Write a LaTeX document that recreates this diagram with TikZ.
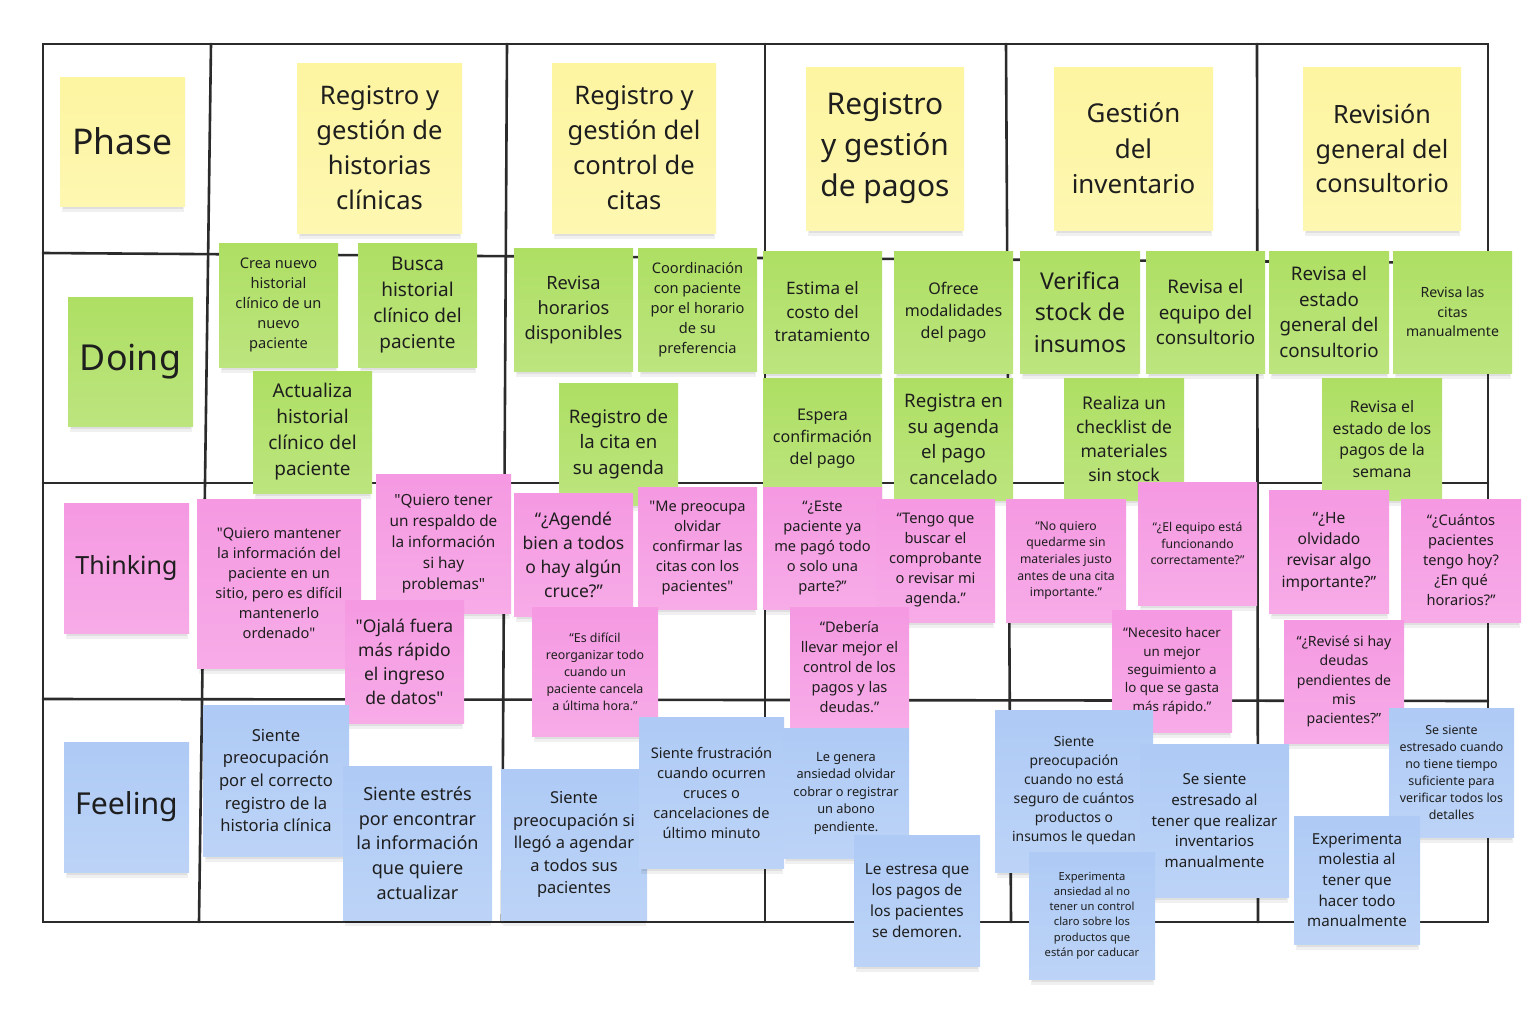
\documentclass[tikz,border=0pt]{standalone}
\usepackage{fontspec}
\setmainfont{Noto Sans}[Ligatures=TeXOff]
\definecolor{yel}{HTML}{FDF5A0}
\definecolor{grn}{HTML}{AEDF63}
\definecolor{pnk}{HTML}{F599E2}
\definecolor{blu}{HTML}{AECAF5}
\definecolor{txt}{HTML}{1E1E1E}
\definecolor{gridc}{HTML}{2B2B2B}
\tikzset{
  sticky/.style={rectangle, inner sep=0pt, align=center, text=txt},
  gridline/.style={draw=gridc, line width=1.3pt, line cap=round},
}
\newcommand\stick[8]{%
  \pgfmathsetmacro\sW{(#5-#3)/2}%
  \pgfmathsetmacro\sH{(#6-#4)/2}%
  \pgfmathsetmacro\sF{#7/2.74}%
  \pgfmathsetmacro\sB{#7/2}%
  \fill[black,opacity=0.06] ({#3+2},{#6-8}) rectangle ({#5-1},{#6+6});
  \fill[black,opacity=0.07] ({#3+3},{#6-3}) rectangle ({#5-2},{#6+3});
  \node[sticky, top color=#2, bottom color=#2!82!white,
        minimum width=\sW pt, minimum height=\sH pt,
        font={\fontsize{\sF pt}{\sB pt}\selectfont}]
        (#1) at ({(#3+#5)/2},{(#4+#6)/2}) {#8};
}
\begin{document}
\begin{tikzpicture}[x=0.5pt,y=-0.5pt]
\useasboundingbox (0,0) rectangle (1527,1023);
\fill[white] (0,0) rectangle (1527,1023);
% grid
\draw[gridline] (43,44) -- (1488,44) -- (1488,922) -- (43,922) -- cycle;
\draw[gridline] (43,253) -- (1488,263);
\draw[gridline] (43,483) -- (1488,483);
\draw[gridline] (43,699) -- (1488,701);
\draw[gridline] (211,44) -- (199,922);
\draw[gridline] (507,44) -- (502,922);
\draw[gridline] (765,44) -- (765,922);
\draw[gridline] (1006,44) -- (1011,922);
\draw[gridline] (1257,44) -- (1258,922);
% phase row
\stick{p0}{yel}{60}{77}{185}{206}{48.6}{Phase}
\stick{p1}{yel}{297}{63}{462}{233}{35}{Registro y\\gestión de\\historias\\clínicas}
\stick{p2}{yel}{552}{63}{716}{233}{35}{Registro y\\gestión del\\control de\\citas}
\stick{p3}{yel}{806}{67}{964}{230}{41}{Registro\\y gestión\\de pagos}
\stick{p4}{yel}{1054}{67}{1213}{230}{35.5}{Gestión\\del\\inventario}
\stick{p5}{yel}{1303}{67}{1461}{230}{34.5}{Revisión\\general del\\consultorio}
% doing row
\stick{d0}{grn}{68}{297}{193}{426}{49}{Doing}
\stick{d1}{grn}{219}{243}{338}{367}{20}{Crea nuevo\\historial\\clínico de un\\nuevo\\paciente}
\stick{d2}{grn}{358}{243}{477}{367}{26}{Busca\\historial\\clínico del\\paciente}
\stick{d3}{grn}{253}{371}{372}{493}{26}{Actualiza\\historial\\clínico del\\paciente}
\stick{d4}{grn}{514}{248}{633}{371}{25}{Revisa\\horarios\\disponibles}
\stick{d5}{grn}{638}{248}{757}{371}{20}{Coordinación\\con paciente\\por el horario\\de su\\preferencia}
\stick{d6}{grn}{763}{251}{882}{373}{23.5}{Estima el\\costo del\\tratamiento}
\stick{d7}{grn}{894}{251}{1013}{373}{22}{Ofrece\\modalidades\\del pago}
\stick{d8}{grn}{559}{383}{678}{505}{25.5}{Registro de\\la cita en\\su agenda}
\stick{d9}{grn}{763}{378}{882}{500}{22}{Espera\\confirmación\\del pago}
\stick{d10}{grn}{894}{378}{1013}{500}{25.5}{Registra en\\su agenda\\el pago\\cancelado}
\stick{d11}{grn}{1020}{251}{1140}{373}{31.7}{Verifica\\stock de\\insumos}
\stick{d12}{grn}{1146}{251}{1265}{373}{25.7}{Revisa el\\equipo del\\consultorio}
\stick{d13}{grn}{1269}{251}{1389}{373}{25.7}{Revisa el\\estado\\general del\\consultorio}
\stick{d14}{grn}{1393}{251}{1512}{373}{19.3}{Revisa las\\citas\\manualmente}
\stick{d15}{grn}{1064}{378}{1184}{500}{24}{Realiza un\\checklist de\\materiales\\sin stock}
\stick{d16}{grn}{1322}{378}{1442}{500}{21.7}{Revisa el\\estado de los\\pagos de la\\semana}
% thinking row
\stick{t0}{pnk}{64}{503}{189}{633}{34.3}{Thinking}
\stick{t1}{pnk}{197}{499}{361}{668}{20}{"Quiero mantener\\la información del\\paciente en un\\sitio, pero es difícil\\mantenerlo\\ordenado"}
\stick{t2}{pnk}{376}{474}{511}{613}{21}{"Quiero tener\\un respaldo de\\la información\\si hay\\problemas"}
\stick{t3}{pnk}{345}{600}{464}{723}{24}{"Ojalá fuera\\más rápido\\el ingreso\\de datos"}
\stick{t4}{pnk}{514}{493}{633}{616}{24}{“¿Agendé\\bien a todos\\o hay algún\\cruce?”}
\stick{t5}{pnk}{638}{487}{757}{609}{20}{"Me preocupa\\olvidar\\confirmar las\\citas con los\\pacientes"}
\stick{t6}{pnk}{763}{487}{882}{609}{20}{“¿Este\\paciente ya\\me pagó todo\\o solo una\\parte?”}
\stick{t7}{pnk}{876}{499}{995}{622}{20}{“Tengo que\\buscar el\\comprobante\\o revisar mi\\agenda.”}
\stick{t8}{pnk}{532}{607}{658}{736}{17}{“Es difícil\\reorganizar todo\\cuando un\\paciente cancela\\a última hora.”}
\stick{t9}{pnk}{790}{607}{909}{728}{20}{“Debería\\llevar mejor el\\control de los\\pagos y las\\deudas.”}
\stick{t10}{pnk}{1006}{499}{1126}{622}{16.7}{“No quiero\\quedarme sin\\materiales justo\\antes de una cita\\importante.”}
\stick{t11}{pnk}{1138}{482}{1257}{605}{16.7}{“¿El equipo está\\funcionando\\correctamente?”}
\stick{t14}{pnk}{1112}{610}{1232}{732}{18.3}{“Necesito hacer\\un mejor\\seguimiento a\\lo que se gasta\\más rápido.”}
\stick{t12}{pnk}{1269}{490}{1389}{613}{21.3}{“¿He\\olvidado\\revisar algo\\importante?”}
\stick{t13}{pnk}{1401}{499}{1521}{622}{20}{“¿Cuántos\\pacientes\\tengo hoy?\\¿En qué\\horarios?”}
\stick{t15}{pnk}{1284}{620}{1404}{743}{19.3}{“¿Revisé si hay\\deudas\\pendientes de\\mis\\pacientes?”}
% feeling row
\stick{f0}{blu}{64}{742}{189}{872}{41.4}{Feeling}
\stick{f1}{blu}{203}{705}{349}{856}{22.7}{Siente\\preocupación\\por el correcto\\registro de la\\historia clínica}
\stick{f2}{blu}{343}{766}{492}{920}{24.7}{Siente estrés\\por encontrar\\la información\\que quiere\\actualizar}
\stick{f3}{blu}{501}{769}{647}{920}{22.5}{Siente\\preocupación si\\llegó a agendar\\a todos sus\\pacientes}
\stick{f4}{blu}{639}{717}{784}{868}{20}{Siente frustración\\cuando ocurren\\cruces o\\cancelaciones de\\último minuto}
\stick{f5}{blu}{783}{728}{909}{858}{17.5}{Le genera\\ansiedad olvidar\\cobrar o registrar\\un abono\\pendiente.}
\stick{f6}{blu}{854}{835}{980}{966}{21}{Le estresa que\\los pagos de\\los pacientes\\se demoren.}
\stick{f7}{blu}{995}{710}{1153}{872}{19}{Siente\\preocupación\\cuando no está\\seguro de cuántos\\productos o\\insumos le quedan}
\stick{f8}{blu}{1140}{744}{1289}{897}{20.7}{Se siente\\estresado al\\tener que realizar\\inventarios\\manualmente}
\stick{f9}{blu}{1029}{852}{1155}{979}{15.3}{Experimenta\\ansiedad al no\\tener un control\\claro sobre los\\productos que\\están por caducar}
\stick{f10}{blu}{1389}{708}{1514}{837}{17}{Se siente\\estresado cuando\\no tiene tiempo\\suficiente para\\verificar todos los\\detalles}
\stick{f11}{blu}{1294}{816}{1420}{944}{20.7}{Experimenta\\molestia al\\tener que\\hacer todo\\manualmente}
\end{tikzpicture}
\end{document}
